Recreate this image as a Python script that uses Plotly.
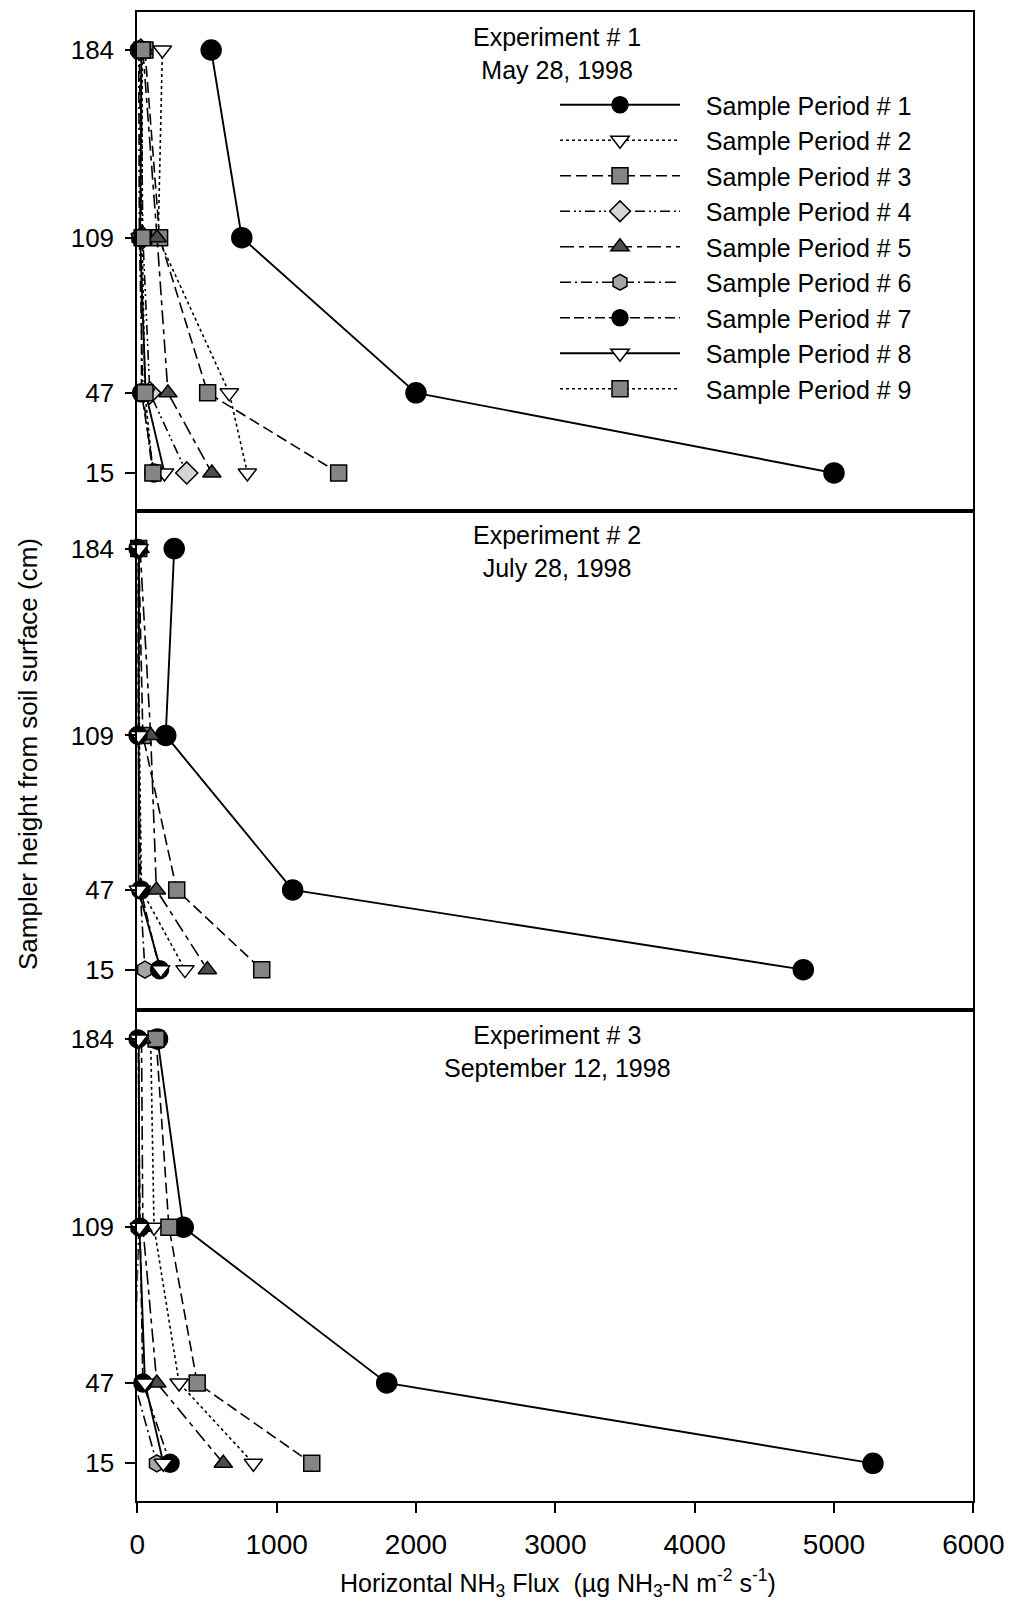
import plotly.graph_objects as go

# Sampler heights above the soil surface (cm)
heights = [184, 109, 47, 15]

period_labels = ["Sample Period # %d" % i for i in range(1, 10)]

# Horizontal NH3 flux, one row per sample period, values at heights 184, 109, 47, 15 cm.
# None marks a period with no measurements in that experiment.
flux_exp1 = [
    [530, 750, 2000, 5000],   # period 1
    [180, 150, 660, 790],     # period 2
    [55, 160, 505, 1445],     # period 3
    [25, 40, 90, 355],        # period 4
    [40, 142, 220, 535],      # period 5
    [10, 15, 40, 110],        # period 6
    [15, 30, 30, 120],        # period 7
    [30, 20, 60, 195],        # period 8
    [35, 35, 55, 112],        # period 9
]

flux_exp2 = [
    [265, 204, 1115, 4780],   # period 1
    [10, 15, 30, 342],        # period 2
    [10, 40, 283, 893],       # period 3
    None,                     # period 4
    [20, 96, 137, 503],       # period 5
    [5, 10, 20, 55],          # period 6
    [5, 5, 25, 160],          # period 7
    [12, 10, 8, 168],         # period 8
    None,                     # period 9
]

flux_exp3 = [
    [145, 330, 1790, 5280],   # period 1
    [96, 120, 300, 833],      # period 2
    [135, 227, 430, 1252],    # period 3
    None,                     # period 4
    [30, 40, 140, 617],       # period 5
    [10, 10, -20, 140],       # period 6
    [5, 20, 40, 235],         # period 7
    [10, 15, 55, 187],        # period 8
    None,                     # period 9
]

experiment_titles = [
    "Experiment # 1<br>May 28, 1998",
    "Experiment # 2<br>July 28, 1998",
    "Experiment # 3<br>September 12, 1998",
]

x_ticks = [0, 1000, 2000, 3000, 4000, 5000, 6000]

# Per-period drawing styles
line_dashes = [
    "solid",
    "3px,3px",
    "11px,5px",
    "10px,4px,2px,3px,2px,4px",
    "14px,5px,5px,5px",
    "11px,4px,2px,4px",
    "10px,4px,10px,4px,3px,4px",
    "solid",
    "3px,3px",
]
line_widths = [1.9, 1.6, 1.6, 1.6, 1.6, 1.6, 1.6, 1.9, 1.6]
symbols = ["circle", "triangle-down", "square", "diamond", "triangle-up",
           "hexagon", "circle", "triangle-down", "square"]
fills = ["#000000", "#ffffff", "#858585", "#d4d4d4", "#4d4d4d",
         "#a6a6a6", "#000000", "#ffffff", "#858585"]
sizes = [20, 16, 16, 17, 16, 17, 18, 16, 16]

FONT = "Liberation Sans, Arial, sans-serif"
W, H = 1014, 1604
LEGEND_PAD = "\u00a0\u00a0\u00a0"


def py(px):
    """Convert a pixel row (from top) to paper y."""
    return 1 - px / H


x_domain = [137.3 / W, 973.3 / W]
y_domains = [
    [py(510.5), py(11.7)],
    [py(1009.5), py(510.5)],
    [py(1501.0), py(1009.5)],
]
y_ranges = [[0, 199.3], [-1, 199.3], [0, 195.7]]
title_centers = [53.5, 551.5, 1051.0]

fig = go.Figure()

for p, data in enumerate([flux_exp1, flux_exp2, flux_exp3]):
    xa = "x" if p == 0 else "x%d" % (p + 1)
    ya = "y" if p == 0 else "y%d" % (p + 1)
    for i, vals in enumerate(data):
        if vals is None:
            continue
        fig.add_trace(go.Scatter(
            x=vals, y=heights, mode="lines+markers",
            name=LEGEND_PAD + period_labels[i], legendgroup="sp%d" % i,
            showlegend=(p == 0),
            line=dict(color="black", width=line_widths[i], dash=line_dashes[i]),
            marker=dict(symbol=symbols[i], size=sizes[i], color=fills[i],
                        line=dict(color="black", width=1.5)),
            xaxis=xa, yaxis=ya, cliponaxis=False,
        ))

layout = dict(
    width=W, height=H,
    margin=dict(l=0, r=0, t=0, b=0, autoexpand=False),
    paper_bgcolor="white", plot_bgcolor="white",
    font=dict(family=FONT, color="black", size=25),
    legend=dict(
        x=555 / W, xanchor="left", y=py(82), yanchor="top",
        itemwidth=120, bgcolor="rgba(0,0,0,0)", borderwidth=0,
        font=dict(family=FONT, size=25, color="black"),
        traceorder="normal", tracegroupgap=0,
    ),
)

for p in range(3):
    xkey = "xaxis" if p == 0 else "xaxis%d" % (p + 1)
    ykey = "yaxis" if p == 0 else "yaxis%d" % (p + 1)
    yref = "y" if p == 0 else "y%d" % (p + 1)
    xref = "x" if p == 0 else "x%d" % (p + 1)
    bottom = p == 2
    layout[xkey] = dict(
        domain=x_domain, range=[0, 6000], anchor=yref,
        showline=True, mirror=True, linecolor="black", linewidth=2,
        showgrid=False, zeroline=False, automargin=False,
        tickvals=x_ticks if bottom else [],
        ticks="outside" if bottom else "", ticklen=10, tickwidth=2,
        tickcolor="black", showticklabels=bottom,
        tickfont=dict(family=FONT, size=28, color="black"),
        ticklabelstandoff=7,
    )
    layout[ykey] = dict(
        domain=y_domains[p], range=y_ranges[p], anchor=xref,
        showline=True, mirror=True, linecolor="black", linewidth=2,
        showgrid=False, zeroline=False, automargin=False,
        tickvals=heights, ticktext=[str(h) for h in heights],
        ticks="outside", ticklen=10, tickwidth=1.5, tickcolor="black",
        tickfont=dict(family=FONT, size=26, color="black"),
        ticklabelstandoff=6,
    )

annotations = []
for p in range(3):
    annotations.append(dict(
        text=experiment_titles[p], xref="paper", yref="paper",
        x=557 / W, y=py(title_centers[p]), xanchor="center", yanchor="middle",
        showarrow=False, align="center",
        font=dict(family=FONT, size=25, color="black"),
    ))

annotations.append(dict(
    text="Sampler height from soil surface (cm)",
    xref="paper", yref="paper", x=28 / W, y=py(754),
    xanchor="center", yanchor="middle", textangle=-90, showarrow=False,
    font=dict(family=FONT, size=26, color="black"),
))
annotations.append(dict(
    text="Horizontal NH<sub>3</sub> Flux&nbsp; (µg NH<sub>3</sub>-N m<sup>-2</sup> s<sup>-1</sup>)",
    xref="paper", yref="paper", x=558 / W, y=py(1583),
    xanchor="center", yanchor="middle", showarrow=False,
    font=dict(family=FONT, size=25, color="black"),
))
layout["annotations"] = annotations

fig.update_layout(**layout)
fig.write_html("out.html")
